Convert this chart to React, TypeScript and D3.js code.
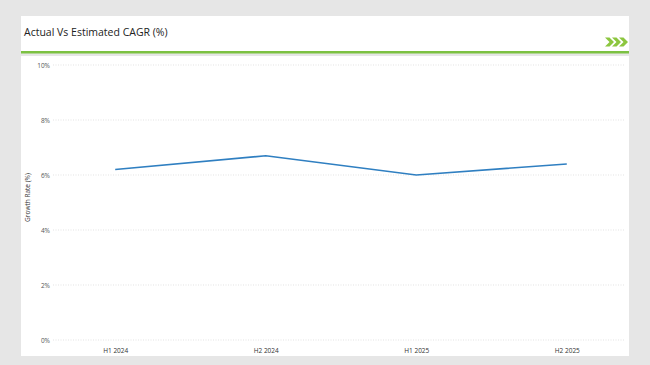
import React, { useEffect, useRef } from 'react';
import * as d3 from 'd3';

// data
const periods = ['H1 2024', 'H2 2024', 'H1 2025', 'H2 2025'];
const growthRates = [6.2, 6.7, 6.0, 6.4];
const yTicks = [0, 2, 4, 6, 8, 10];

const W = 650;
const H = 365;
const FONT = '"Open Sans", "Liberation Sans", sans-serif';

export default function App() {
  const ref = useRef<SVGSVGElement>(null);

  useEffect(() => {
    const svg = d3.select(ref.current);
    svg.selectAll('*').remove();

    // page background + cards
    svg.append('rect').attr('width', W).attr('height', H).attr('fill', '#e6e6e6');
    svg.append('rect').attr('x', 21).attr('y', 16).attr('width', 608).attr('height', 35).attr('fill', '#fff');
    svg.append('rect').attr('x', 21).attr('y', 51).attr('width', 608).attr('height', 2.5).attr('fill', '#7cc142');
    svg.append('rect').attr('x', 21).attr('y', 56).attr('width', 608).attr('height', 300).attr('fill', '#fff');

    svg.append('text')
      .attr('x', 24)
      .attr('y', 36)
      .attr('font-family', FONT)
      .attr('font-size', 10.5)
      .attr('fill', '#222')
      .text('Actual Vs Estimated CAGR (%)');

    // chevrons
    const chev = svg.append('g').attr('fill', '#8cc63f');
    [0, 1, 2].forEach(i => {
      const x0 = 605 + i * 7;
      chev.append('path')
        .attr('d', `M${x0},37.5 L${x0 + 4.5},37.5 L${x0 + 9},42 L${x0 + 4.5},46.5 L${x0},46.5 L${x0 + 4.5},42 Z`);
    });

    const m = { left: 55, right: 627, top: 65, bottom: 340 };

    const x = d3.scalePoint<string>()
      .domain(periods)
      .range([m.left, m.right])
      .padding(0.4);

    const y = d3.scaleLinear()
      .domain([0, 10])
      .range([m.bottom, m.top]);

    // gridlines
    svg.append('g')
      .selectAll('line')
      .data(yTicks)
      .enter()
      .append('line')
      .attr('x1', 53)
      .attr('x2', 625)
      .attr('y1', d => y(d))
      .attr('y2', d => y(d))
      .attr('stroke', '#dcdcdc')
      .attr('stroke-width', 0.8)
      .attr('stroke-dasharray', '1,1.5');

    // y axis
    const gy = svg.append('g')
      .attr('transform', 'translate(50,0)')
      .call(d3.axisLeft(y).tickValues(yTicks).tickSize(0).tickPadding(0).tickFormat(d => `${d}%`));
    gy.select('.domain').remove();
    gy.selectAll('text')
      .attr('font-family', FONT)
      .attr('font-size', 6.5)
      .attr('fill', '#555');

    // x axis
    const gx = svg.append('g')
      .attr('transform', `translate(0,${m.bottom})`)
      .call(d3.axisBottom(x).tickSize(0).tickPadding(8));
    gx.select('.domain').remove();
    gx.selectAll('text')
      .attr('font-family', FONT)
      .attr('font-size', 6.5)
      .attr('fill', '#333');

    svg.append('text')
      .attr('transform', `translate(30,${(m.top + m.bottom) / 2 - 5}) rotate(-90)`)
      .attr('text-anchor', 'middle')
      .attr('font-family', FONT)
      .attr('font-size', 6.5)
      .attr('fill', '#333')
      .text('Growth Rate (%)');

    const line = d3.line<number>()
      .x((d, i) => x(periods[i]) as number)
      .y(d => y(d));

    svg.append('path')
      .datum(growthRates)
      .attr('d', line)
      .attr('fill', 'none')
      .attr('stroke', '#2f7fc1')
      .attr('stroke-width', 1.6);
  }, []);

  return (
    <svg ref={ref} width={W} height={H}
      style={{ position: 'fixed', top: 0, left: 0, display: 'block' }} />
  );
}
